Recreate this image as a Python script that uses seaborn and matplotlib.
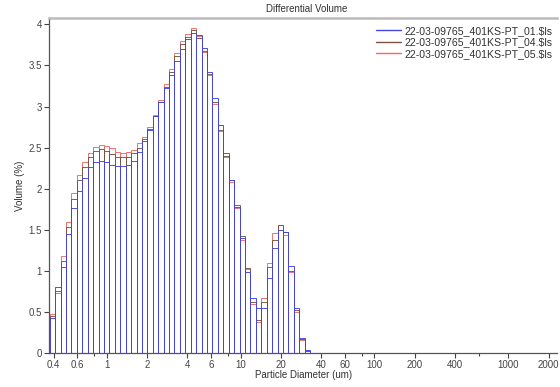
import numpy as np
import pandas as pd
import matplotlib
matplotlib.use("Agg")
import matplotlib.pyplot as plt
import seaborn as sns
from matplotlib.ticker import FixedLocator, FixedFormatter, NullFormatter

# LS 13 320 channel edges (um), 0.375 .. 2000
n_channels = 92
bin_edges = 0.375 * (2000 / 0.375) ** (np.arange(n_channels + 1) / n_channels)

# differential volume (%) per channel (channels 0..47, rest empty)
vol_01 = [0.43, 0.80, 1.05, 1.45, 1.77, 1.97, 2.13, 2.26, 2.33, 2.34,
          2.32, 2.29, 2.27, 2.27, 2.29, 2.34, 2.45, 2.58, 2.72, 2.88,
          3.05, 3.22, 3.38, 3.56, 3.70, 3.82, 3.90, 3.87, 3.71, 3.42,
          3.10, 2.77, 2.44, 2.10, 1.78, 1.40, 0.98, 0.67, 0.55, 0.55,
          0.91, 1.28, 1.50, 1.47, 1.06, 0.55, 0.18, 0.03]
vol_04 = [0.45, 0.75, 1.12, 1.53, 1.88, 2.10, 2.26, 2.38, 2.46, 2.48,
          2.46, 2.42, 2.39, 2.38, 2.39, 2.43, 2.50, 2.60, 2.73, 2.89,
          3.06, 3.24, 3.42, 3.62, 3.76, 3.85, 3.93, 3.84, 3.68, 3.40,
          3.05, 2.72, 2.40, 2.10, 1.80, 1.42, 1.04, 0.62, 0.40, 0.62,
          1.05, 1.38, 1.56, 1.47, 1.00, 0.52, 0.17, 0.02]
vol_05 = [0.48, 0.73, 1.18, 1.60, 1.95, 2.17, 2.32, 2.43, 2.51, 2.53,
          2.52, 2.49, 2.45, 2.44, 2.45, 2.47, 2.55, 2.63, 2.75, 2.90,
          3.08, 3.27, 3.46, 3.65, 3.80, 3.88, 3.96, 3.86, 3.66, 3.38,
          3.03, 2.70, 2.38, 2.08, 1.76, 1.38, 1.02, 0.60, 0.38, 0.67,
          1.10, 1.46, 1.56, 1.44, 0.98, 0.50, 0.16, 0.02]

sample_names = ["22-03-09765_401KS-PT_01.$ls",
                "22-03-09765_401KS-PT_04.$ls",
                "22-03-09765_401KS-PT_05.$ls"]
colors = ["#4343e2", "#7a5240", "#f06a64"]

x_major = [0.4, 0.6, 1, 2, 4, 6, 10, 20, 40, 60, 100, 200, 400, 1000, 2000]
x_minor = [0.8, 8, 80, 600]
y_ticks = [0, 0.5, 1, 1.5, 2, 2.5, 3, 3.5, 4]

sns.set_theme(style="ticks")
plt.rcParams["font.family"] = ["Liberation Sans", "DejaVu Sans"]

fig = plt.figure(figsize=(5.6, 3.87), dpi=100)
ax = fig.add_axes([0.0875, 0.088, 0.908, 0.866])

# draw red first, blue last so the blue outlines sit on top
for vals, c in zip([vol_05, vol_04, vol_01], [colors[2], colors[1], colors[0]]):
    edges = bin_edges[:len(vals) + 1]
    df = pd.DataFrame({"size": np.sqrt(edges[:-1] * edges[1:]), "vol": vals})
    # bins as a list: seaborn 0.13 compares bins == "auto" when weights are given
    sns.histplot(data=df, x="size", weights="vol", bins=list(edges),
                 element="bars", fill=False, color=c, linewidth=0.65, ax=ax)

ax.set_xscale("log")
ax.set_xlim(0.37, 2330)
ax.set_ylim(0, 4.08)

ax.xaxis.set_major_locator(FixedLocator(x_major))
ax.xaxis.set_major_formatter(FixedFormatter([f"{v:g}" for v in x_major]))
ax.xaxis.set_minor_locator(FixedLocator(x_minor))
ax.xaxis.set_minor_formatter(NullFormatter())
ax.set_yticks(y_ticks)
ax.set_yticklabels([f"{v:g}" for v in y_ticks])

ax.tick_params(axis="both", which="major", labelsize=7, length=3.5, width=0.8,
               colors="#444444", pad=1.5)
ax.tick_params(axis="x", which="minor", length=2.5, width=0.8, colors="#444444")

for s in ["left", "bottom"]:
    ax.spines[s].set_color("#555555")
    ax.spines[s].set_linewidth(0.9)
ax.spines["right"].set_visible(False)
ax.spines["top"].set_color("#bbbbbb")
ax.spines["top"].set_linewidth(1.8)

ax.set_xlabel("Particle Diameter (um)", fontsize=7, color="#333333", labelpad=0)
ax.set_ylabel("Volume (%)", fontsize=7, color="#333333", labelpad=3)
fig.text(0.547, 0.978, "Differential Volume", ha="center", va="center",
         fontsize=7, color="#333333")

handles = [plt.Line2D([], [], color=c, linewidth=1) for c in colors]
ax.legend(handles, sample_names, loc="upper right", bbox_to_anchor=(1.003, 0.995),
          frameon=False, fontsize=7.6, handlelength=2.4, handletextpad=0.35,
          labelspacing=0.15, borderaxespad=0.2, labelcolor="#333333")

fig.savefig("out.png", dpi=100)
